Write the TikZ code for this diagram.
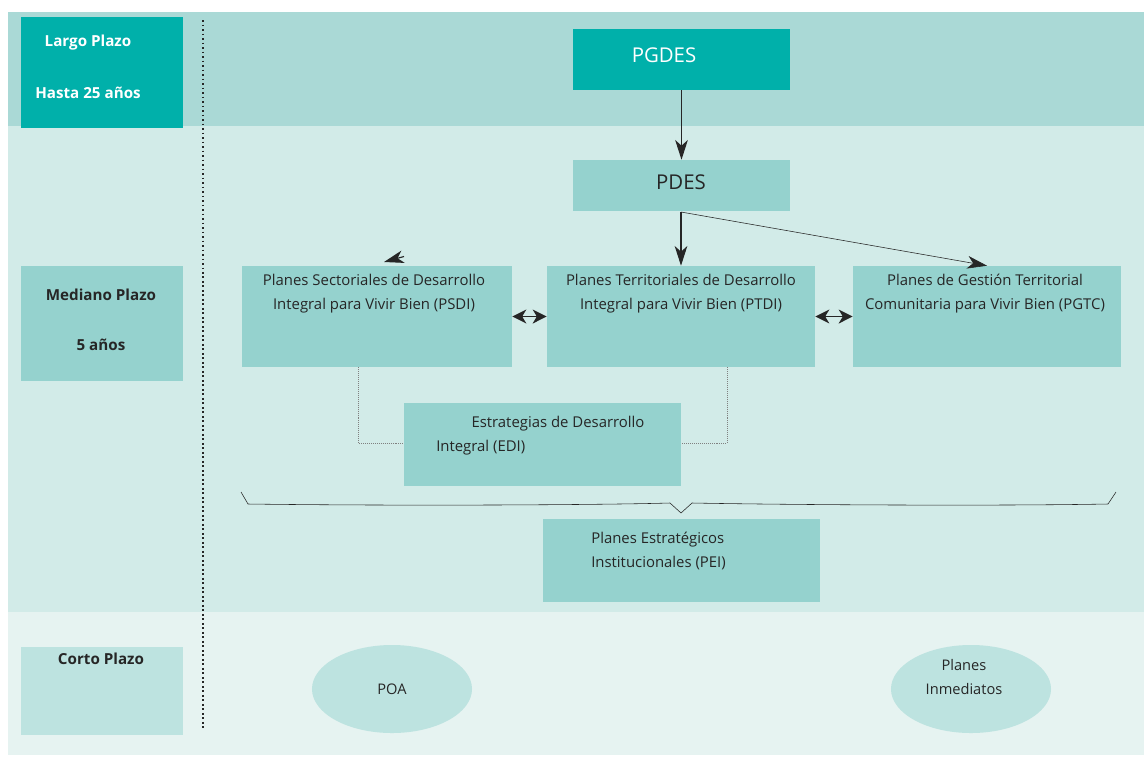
\documentclass[tikz,border=0pt]{standalone}
\usepackage{fontspec}
\setmainfont{Open Sans}
\usetikzlibrary{arrows.meta, positioning}

\definecolor{bandlargo}{HTML}{AAD9D6}
\definecolor{bandmed}{HTML}{D2EBE8}
\definecolor{bandcorto}{HTML}{E6F3F1}
\definecolor{tealdark}{HTML}{00B0AA}
\definecolor{tealbox}{HTML}{95D2CE}
\definecolor{teallight}{HTML}{BDE3E0}
\definecolor{ink}{HTML}{262626}

\tikzset{
  plan/.style={fill=tealbox, inner sep=0pt},
  plantxt/.style={text=ink, font=\fontsize{10.6}{17}\selectfont, align=center, anchor=north, inner sep=0pt},
  term/.style={inner sep=0pt, minimum width=4.05cm},
  termtxt/.style={font=\fontsize{10.8}{12}\selectfont\bfseries, inner sep=0pt},
  oval/.style={ellipse, fill=teallight, minimum width=4cm, minimum height=2.2cm, inner sep=0pt,
    text=ink, font=\fontsize{10.4}{17}\selectfont, align=center},
  flow/.style={-{Stealth[length=14pt,width=9pt,inset=4pt]}, thick, ink},
  both/.style={{Stealth[length=10pt,width=10pt,inset=3pt]}-{Stealth[length=10pt,width=10pt,inset=3pt]}, thick, ink},
  link/.style={densely dotted, gray}
}
\usetikzlibrary{shapes.geometric}

\begin{document}
\begin{tikzpicture}[x=0.025cm, y=-0.025cm]
\useasboundingbox (0,0) rectangle (1144,765);
% bands
\fill[bandlargo] (8,12) rectangle (1144,126);
\fill[bandmed] (8,126) rectangle (1144,612);
\fill[bandcorto] (8,612) rectangle (1144,755);
\draw[ink, line width=1.2pt, dotted] (203,20) -- (203,730);

% time terms
\node[term, fill=tealdark, minimum height=2.775cm] (largo) at (102,72.5) {};
\node[termtxt, text=white] at (88,43) {Largo Plazo};
\node[termtxt, text=white] at (88,93) {Hasta 25 años};
\node[term, fill=tealbox, minimum height=2.875cm] (mediano) at (102,323.5) {};
\node[termtxt, text=ink] at (101,295) {Mediano Plazo};
\node[termtxt, text=ink] at (101,345) {5 años};
\node[term, fill=teallight, minimum height=2.2cm] (corto) at (102,691) {};
\node[termtxt, text=ink] at (101,659) {Corto Plazo};

% plans
\node[plan, fill=tealdark, minimum width=5.425cm, minimum height=1.525cm] (pgdes) at (681.5,59.5) {};
\node[text=white, font=\fontsize{14.5}{15}\selectfont, inner sep=0pt] at (664,55) {PGDES};
\node[plan, minimum width=5.425cm, minimum height=1.275cm] (pdes) at (681.5,185.5) {};
\node[text=ink, font=\fontsize{14.5}{15}\selectfont, inner sep=0pt] at (681,182) {PDES};
\node[plan, minimum width=6.75cm, minimum height=2.525cm] (psdi) at (377,316.5) {};
\node[plan, minimum width=6.7cm, minimum height=2.525cm] (ptdi) at (681,316.5) {};
\node[plan, minimum width=6.7cm, minimum height=2.525cm] (pgtc) at (987,316.5) {};
\node[plantxt] at (374,274) {Planes Sectoriales de Desarrollo\\Integral para Vivir Bien (PSDI)};
\node[plantxt] at (681,274) {Planes Territoriales de Desarrollo\\Integral para Vivir Bien (PTDI)};
\node[plantxt] at (985,274) {Planes de Gestión Territorial\\Comunitaria para Vivir Bien (PGTC)};

\node[plan, minimum width=6.925cm, minimum height=2.075cm] (edi) at (542.5,444.5) {};
\node[plantxt] at (558,416) {Estrategias de Desarrollo};
\node[plantxt, anchor=north west] at (436,440) {Integral (EDI)};

\node[plan, minimum width=6.925cm, minimum height=2.075cm] (pei) at (681.5,560.5) {};
\node[plantxt, anchor=north west, align=left] at (591,532) {Planes Estratégicos\\Institucionales (PEI)};

\node[oval] (poa) at (392,689) {POA};
\node[oval] (inmediatos) at (971,689) {};
\node[text=ink, font=\fontsize{10.4}{17}\selectfont, align=center, inner sep=0pt, anchor=north]
  at (964,659) {Planes\\Inmediatos};

% connectors
\coordinate (split) at (681,212);
\coordinate (tipfrom) at (404,256.5);
\coordinate (tipto) at (384,262);
\draw[flow] (pgdes) -- (pdes);
\draw[flow] (split) -- (ptdi.north);
\draw[flow, thin] (split) -- (pgtc.north);
\draw[flow] (tipfrom) -- (tipto);
\draw[both] (psdi) -- (ptdi);
\draw[both] (ptdi) -- (pgtc);
\draw[link] (psdi.south -| 358,0) |- (edi.west |- 0,443);
\draw[link] (ptdi.south -| 727,0) |- (edi.east |- 0,443);

% brace
\draw[ink, thin] (241,492) -- (248,504) .. controls (400,506) and (600,505) .. (670,503)
  -- (681,513) -- (692,503) .. controls (800,505) and (1000,506) .. (1108,504) -- (1116,492);
\end{tikzpicture}
\end{document}
